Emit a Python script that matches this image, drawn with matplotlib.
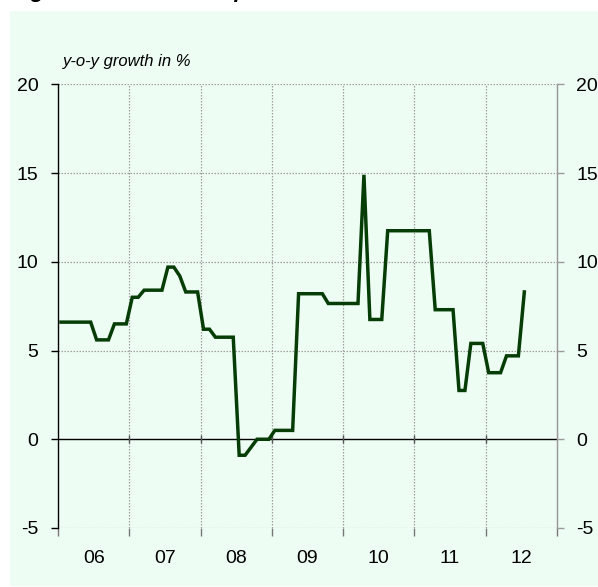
import numpy as np
import matplotlib
matplotlib.use("Agg")
import matplotlib.pyplot as plt
from matplotlib.patches import Rectangle

# Monthly year-on-year growth, Jan 2006 - Jul 2012 (%)
start_year = 2006
growth = [
    6.6, 6.6, 6.6, 6.6, 6.6, 6.6,          # 2006 H1
    5.6, 5.6, 5.6, 6.5, 6.5, 6.5,          # 2006 H2
    8.0, 8.0, 8.4, 8.4, 8.4, 8.4,          # 2007 H1
    9.7, 9.7, 9.2, 8.3, 8.3, 8.3,          # 2007 H2
    6.2, 6.2, 5.75, 5.75, 5.75, 5.75,      # 2008 H1
    -0.9, -0.9, -0.45, 0.0, 0.0, 0.0,      # 2008 H2
    0.5, 0.5, 0.5, 0.5, 8.2, 8.2,          # 2009 H1
    8.2, 8.2, 8.2, 7.65, 7.65, 7.65,       # 2009 H2
    7.65, 7.65, 7.65, 14.9, 6.75, 6.75,    # 2010 H1
    6.75, 11.75, 11.75, 11.75, 11.75, 11.75,  # 2010 H2
    11.75, 11.75, 11.75, 7.3, 7.3, 7.3,    # 2011 H1
    7.3, 2.75, 2.75, 5.4, 5.4, 5.4,        # 2011 H2
    3.75, 3.75, 3.75, 4.7, 4.7, 4.7,       # 2012 H1
    8.3,                                   # 2012 Jul
]
year_labels = ["06", "07", "08", "09", "10", "11", "12"]
y_ticks = [-5, 0, 5, 10, 15, 20]
y_label = "y-o-y growth in %"
title = "Figure 6: Real estate prices"

months = np.arange(len(growth))
x = start_year + (months + 0.5) / 12.0
year_edges = np.arange(start_year, start_year + len(year_labels) + 1)
year_mids = year_edges[:-1] + 0.5

W, H = 598, 587
fig = plt.figure(figsize=(W / 100, H / 100), dpi=100)
fig.patch.set_facecolor("white")

panel_color = "#eefdf3"
panel = Rectangle((10 / W, 1 - 586 / H), (W - 10) / W, (586 - 11) / H,
                  transform=fig.transFigure, facecolor=panel_color,
                  edgecolor="none", zorder=-10)
fig.add_artist(panel)

font = "Liberation Sans"
fig.text(11 / W, 1 + 3 / H, title, fontsize=16, fontweight="bold", fontstyle="italic",
         family=font, ha="left", va="baseline", color="black")

ax = fig.add_axes([58 / W, 1 - 528 / H, (557 - 58) / W, (528 - 84.3) / H])
ax.set_zorder(1)
ax.set_facecolor("none")
ax.set_xlim(year_edges[0], year_edges[-1])
ax.set_ylim(-5, 20)

grid_kw = dict(color="#a0a0a0", lw=0.9, linestyle=(0, (1.2, 1.2)), zorder=1)
for v in y_ticks:
    if v != 0:
        ax.axhline(v, **grid_kw)
for xe in year_edges[1:-1]:
    ax.axvline(xe, **grid_kw)
ax.axhline(0, color="black", lw=1.0, zorder=2)
# small year ticks on the zero line
ax.plot(year_edges[1:-1], np.zeros(len(year_edges) - 2), linestyle="none",
        marker="|", markersize=6, markeredgewidth=1.0, color="#555555", zorder=2)

ax.plot(x, growth, color="#063d06", lw=2.5, solid_joinstyle="miter", zorder=3)

for side in ["top", "bottom"]:
    ax.spines[side].set_visible(False)
ax.spines["left"].set_color("black")
ax.spines["left"].set_linewidth(1.0)
ax.spines["right"].set_color("#9a9a9a")
ax.spines["right"].set_linewidth(1.0)

label_size = 14
ax.set_yticks(y_ticks)
ax.set_yticklabels([str(v) for v in y_ticks])
ax.tick_params(axis="y", direction="out", length=5, width=1, color="black",
               labelsize=label_size, pad=9)

ax.set_xticks(year_edges)
ax.set_xticklabels([])
ax.set_xticks(year_mids, minor=True)
ax.set_xticklabels(year_labels, minor=True)
ax.tick_params(axis="x", which="major", direction="out", length=5.5, width=1,
               color="#777777")
ax.tick_params(axis="x", which="minor", length=0, labelsize=label_size, pad=16)

ax2 = ax.twinx()
ax2.set_zorder(1)
ax2.set_facecolor("none")
ax2.set_ylim(ax.get_ylim())
ax2.set_yticks(y_ticks)
ax2.set_yticklabels([str(v) for v in y_ticks])
ax2.tick_params(axis="y", direction="out", length=5, width=1, color="#9a9a9a",
                labelsize=label_size, pad=9)
for side in ["top", "bottom", "left"]:
    ax2.spines[side].set_visible(False)
ax2.spines["right"].set_color("#9a9a9a")

for a in (ax, ax2):
    for lab in a.get_yticklabels() + a.get_xticklabels(minor=True):
        lab.set_family(font)

fig.text(63 / W, 1 - 61.5 / H, y_label, fontsize=12,
         fontstyle="italic", family=font, ha="left", va="center")

fig.savefig("out.png", dpi=100, facecolor=fig.get_facecolor())
